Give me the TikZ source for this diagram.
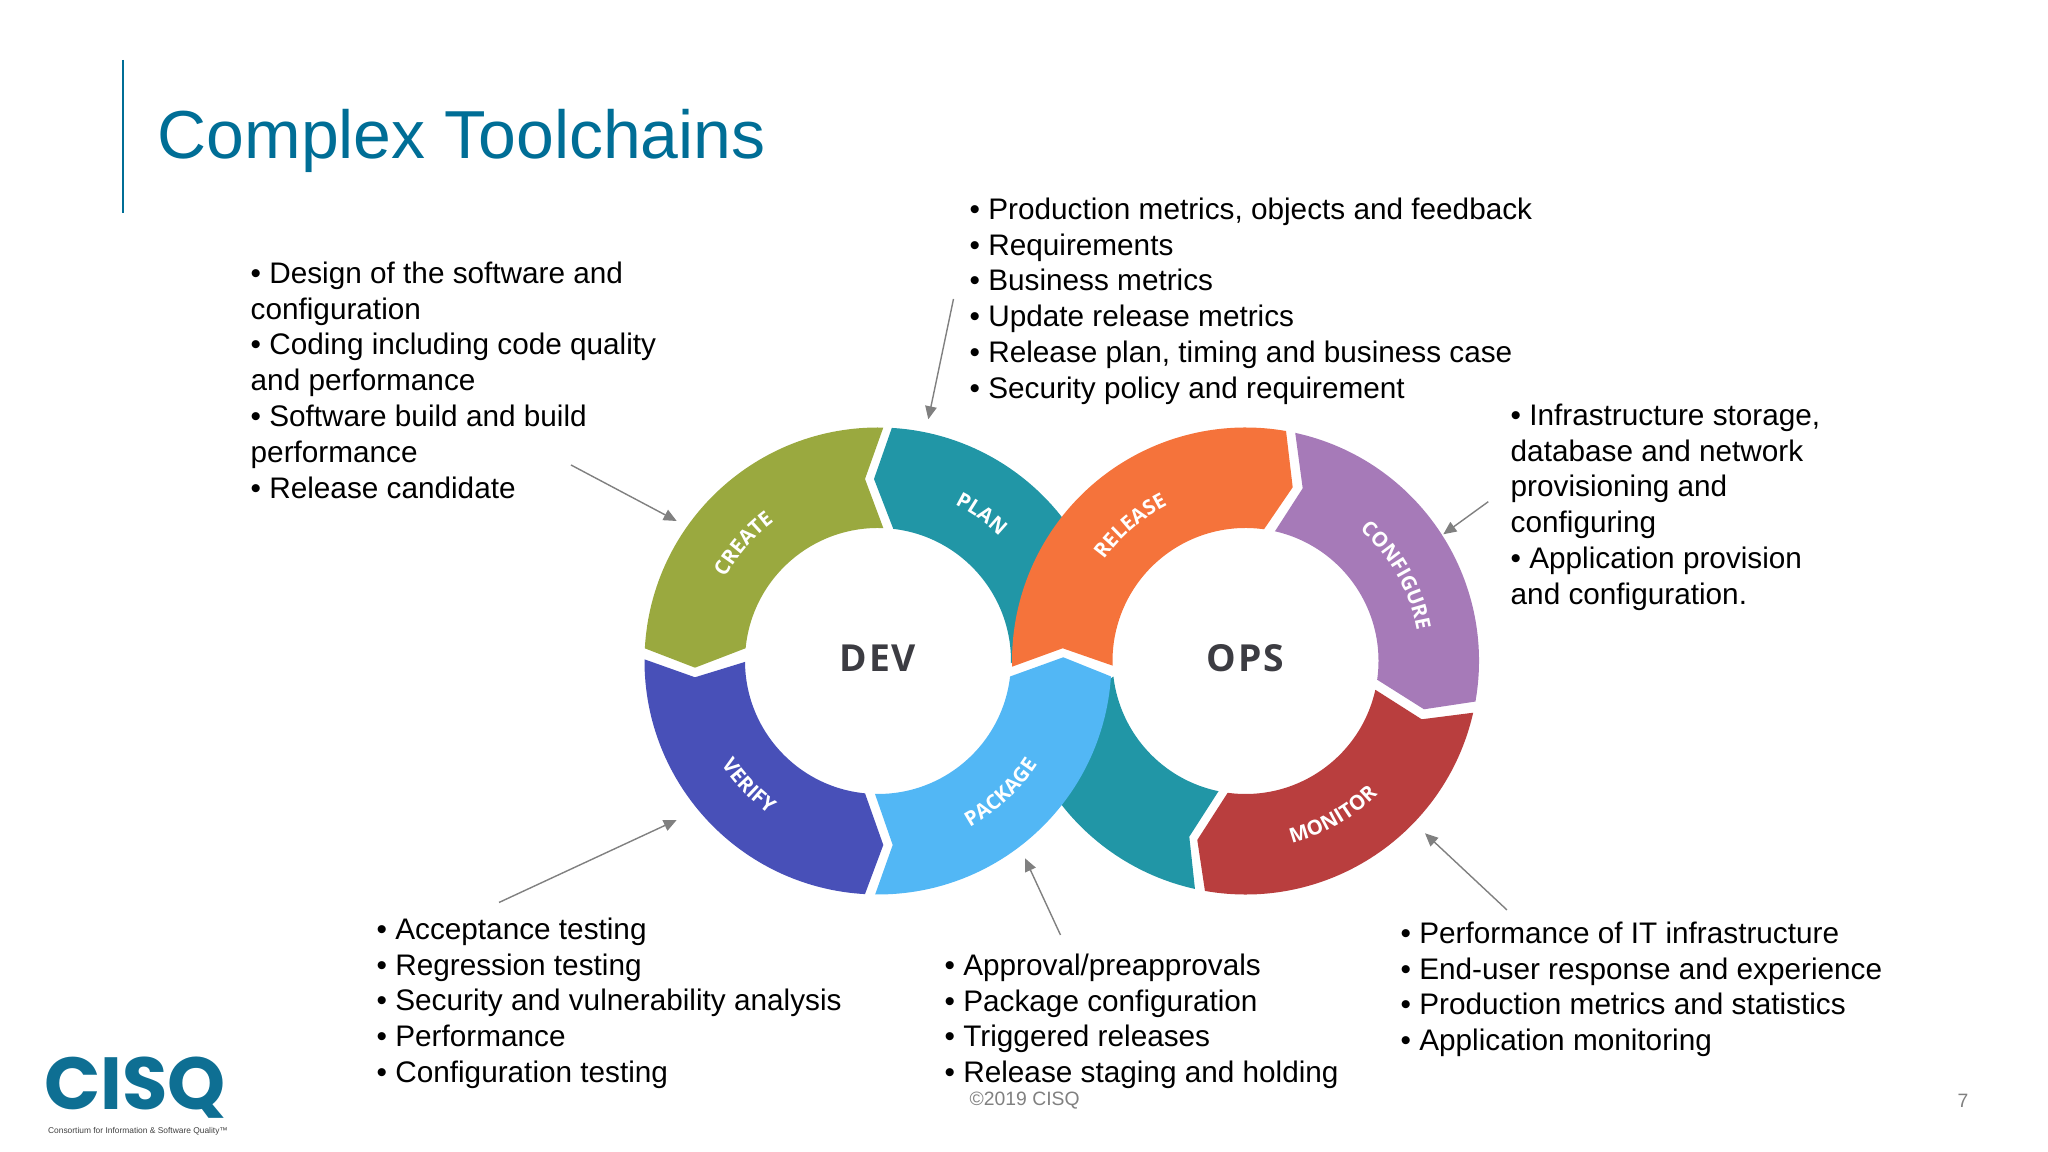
\documentclass[tikz,border=0pt]{standalone}
\usepackage{fontspec}
\usepackage{tikz}
\usetikzlibrary{calc,positioning,arrows.meta,decorations.text}
\setmainfont{Liberation Sans}
\newfontfamily\ringfamily{Open Sans}[BoldFont={Open Sans Bold}]
\newfontfamily\logofamily{Poppins}
\definecolor{titleblue}{HTML}{006E96}
\definecolor{logoblue}{HTML}{0E6F93}
\definecolor{creategreen}{HTML}{9AA93F}
\definecolor{planteal}{HTML}{2196A6}
\definecolor{releaseorange}{HTML}{F5733B}
\definecolor{configpurple}{HTML}{A67AB8}
\definecolor{monitorred}{HTML}{B93E3E}
\definecolor{packageblue}{HTML}{52B7F5}
\definecolor{verifyindigo}{HTML}{4850B8}
\definecolor{hubgray}{HTML}{3C3C42}
\tikzset{
	bullets/.style={anchor=north west, align=left, inner sep=0pt, font=\fontsize{8.46}{10.2}\selectfont},
	pointer/.style={color=gray, line width=0.4pt, -{Triangle[length=1.3mm,width=1.15mm]}},
	hub/.style={inner sep=0pt, text=hubgray, font=\ringfamily\bfseries\fontsize{10.6}{12}\selectfont\addfontfeature{LetterSpace=5}},
	footer/.style={inner sep=0pt, text=gray, font=\fontsize{5.5}{6.6}\selectfont}
}
\newcommand{\ringfont}{\ringfamily\bfseries\fontsize{5.8}{7}\selectfont\addfontfeature{LetterSpace=14}\color{white}}
\newcommand{\ringlabel}[4]{%
	\path[decorate, decoration={text along path, text align=center, text={|\ringfont|#4}}]
		(#1:#3) arc[start angle=#1, end angle=#2, radius=#3];}

\begin{document}
\begin{tikzpicture}
	\useasboundingbox (0,0) rectangle (20.48,11.52);

	% Title and rule
	\draw[color=titleblue, line width=0.7pt] (1.23, 10.92) -- (1.23, 9.39);
	\node (title) [anchor=west, inner sep=0pt, text=titleblue, font=\fontsize{19.33}{23}\selectfont] at (1.57, 10.11) {Complex Toolchains};

	% Centres of the two rings
	\coordinate (devhub) at (8.78, 4.91);
	\coordinate (opshub) at (12.455, 4.91);

	% Dev ring, the teal part first since the orange one lies over it
	\begin{scope}[shift={(devhub)}]
		\fill[planteal] (86.6:2.335) arc[start angle=86.6, end angle=20, radius=2.335] -- (-1:1.33) arc[start angle=-1, end angle=83.4, radius=1.33] -- (-0.04, 1.82) -- cycle;
	\end{scope}

	% Ops ring
	\begin{scope}[shift={(opshub)}]
		\fill[planteal] (200:2.335) arc[start angle=200, end angle=257.5, radius=2.335] -- (-0.562, -1.757) -- (258.3:1.33) arc[start angle=258.3, end angle=186.7, radius=1.33] -- cycle;
		\fill[releaseorange] (181.4:2.335) arc[start angle=181.4, end angle=80, radius=2.335] -- (0.472, 1.737) -- (82:1.33) arc[start angle=82, end angle=182, radius=1.33] -- (-1.828, 0.127) -- cycle;
		\fill[configpurple] (77.7:2.335) arc[start angle=77.7, end angle=-10, radius=2.335] -- (1.785, -0.483) -- (-8.1:1.33) arc[start angle=-8.1, end angle=77.2, radius=1.33] -- (0.572, 1.727) -- cycle;
		\fill[monitorred] (-12.8:2.335) arc[start angle=-12.8, end angle=-100, radius=2.335] -- (-0.482, -1.79) -- (-97.7:1.33) arc[start angle=-97.7, end angle=-12.5, radius=1.33] -- (1.762, -0.583) -- cycle;
		\ringlabel{165}{96}{1.74}{RELEASE}
		\ringlabel{74}{-15}{1.74}{CONFIGURE}
		\ringlabel{-110}{-11}{1.88}{MONITOR}
	\end{scope}

	\begin{scope}[shift={(devhub)}]
		\fill[creategreen] (176.9:2.335) arc[start angle=176.9, end angle=88.7, radius=2.335] -- (-0.13, 1.82) -- (87.7:1.33) arc[start angle=87.7, end angle=174.5, radius=1.33] -- (-1.83, -0.067) -- cycle;
		\fill[verifyindigo] (179.6:2.335) arc[start angle=179.6, end angle=266.8, radius=2.335] -- (0.053, -1.84) -- (264.4:1.33) arc[start angle=264.4, end angle=180.4, radius=1.33] -- (-1.83, -0.163) -- cycle;
		\fill[packageblue] (-3.8:2.335) arc[start angle=-3.8, end angle=-90.7, radius=2.335] -- (0.147, -1.84) -- (-91.3:1.33) arc[start angle=-91.3, end angle=-6.7, radius=1.33] -- (1.853, 0.037) -- cycle;
		\ringlabel{170}{108}{1.74}{CREATE}
		\ringlabel{85}{24.5}{1.74}{PLAN}
		\ringlabel{190}{258}{1.88}{VERIFY}
		\ringlabel{-95}{1}{1.90}{PACKAGE}
	\end{scope}

	\node (dev) [hub] at (8.78, 4.94) {DEV};
	\node (ops) [hub] at (12.455, 4.94) {OPS};

	% Lists around the rings
	\node (createlist) [bullets] at (2.50, 8.91) {• Design of the software and\\configuration\\• Coding including code quality\\and performance\\• Software build and build\\performance\\• Release candidate};
	\node (planlist) [bullets] at (9.69, 9.55) {• Production metrics, objects and feedback\\• Requirements\\• Business metrics\\• Update release metrics\\• Release plan, timing and business case\\• Security policy and requirement};
	\node (configlist) [bullets] at (15.10, 7.49) {• Infrastructure storage,\\database and network\\provisioning and\\configuring\\• Application provision\\and configuration.};
	\node (verifylist) [bullets] at (3.76, 2.35) {• Acceptance testing\\• Regression testing\\• Security and vulnerability analysis\\• Performance\\• Configuration testing};
	\node (packagelist) [bullets] at (9.44, 1.99) {• Approval/preapprovals\\• Package configuration\\• Triggered releases\\• Release staging and holding};
	\node (monitorlist) [bullets] at (14.00, 2.31) {• Performance of IT infrastructure\\• End-user response and experience\\• Production metrics and statistics\\• Application monitoring};

	% Pointers from the lists to the ring parts
	\coordinate (planfrom) at (9.535, 8.53);
	\coordinate (planto) at (9.283, 7.327);
	\coordinate (createfrom) at (5.71, 6.87);
	\coordinate (createto) at (6.767, 6.31);
	\coordinate (verifyfrom) at (4.99, 2.495);
	\coordinate (verifyto) at (6.767, 3.32);
	\coordinate (packagefrom) at (10.605, 2.17);
	\coordinate (packageto) at (10.25, 2.937);
	\coordinate (monitorfrom) at (15.07, 2.42);
	\coordinate (monitorto) at (14.25, 3.187);
	\coordinate (configfrom) at (14.883, 6.503);
	\coordinate (configto) at (14.433, 6.177);
	\draw[pointer] (planfrom) -- (planto);
	\draw[pointer] (createfrom) -- (createto);
	\draw[pointer] (verifyfrom) -- (verifyto);
	\draw[pointer] (packagefrom) -- (packageto);
	\draw[pointer] (monitorfrom) -- (monitorto);
	\draw[pointer] (configfrom) -- (configto);

	% Footer
	\node (copyright) [footer, anchor=west] at (9.69, 0.515) {©2019 CISQ};
	\node (pagenum) [footer] at (19.63, 0.515) {7};
	\node (logo) [inner sep=0pt, text=logoblue, font=\logofamily\bfseries\fontsize{21}{24}\selectfont] at (1.35, 0.645) {CISQ};
	\node (tagline) [inner sep=0pt, text=darkgray, font=\fontsize{2.39}{3}\selectfont] at (1.38, 0.21) {Consortium for Information \& Software Quality™};
\end{tikzpicture}
\end{document}
